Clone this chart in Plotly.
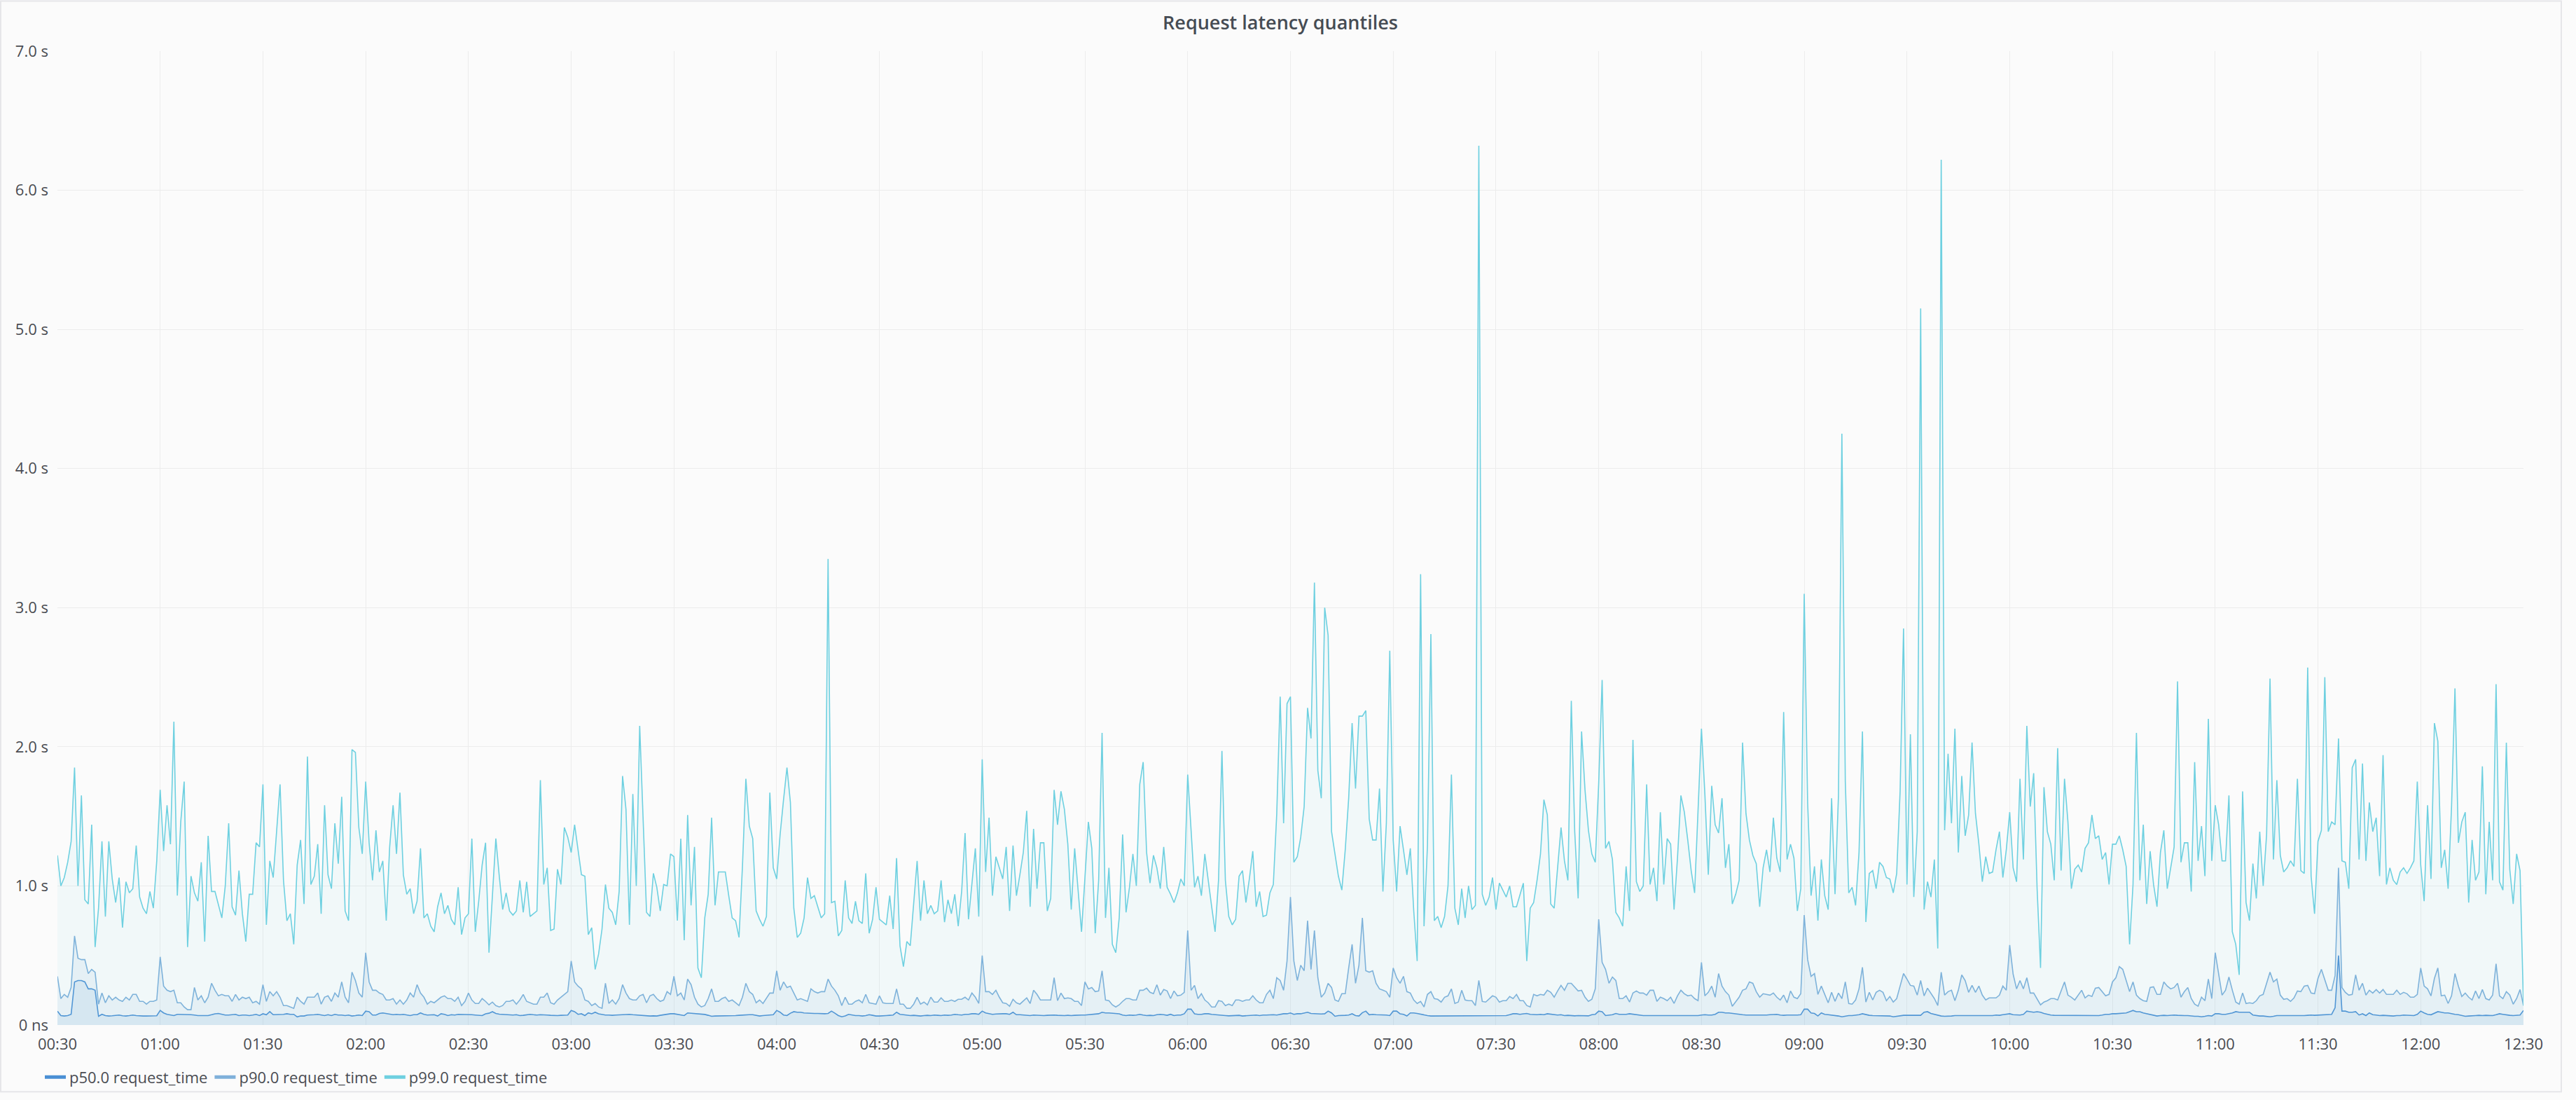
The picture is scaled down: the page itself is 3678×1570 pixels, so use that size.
import sys
import pandas as pd
import plotly.graph_objects as go

# ---------------- data (one value per minute) ----------------
START_TIME = "2019-06-20 00:30"
SAMPLE_FREQ = "1min"

p99_values = [
    # 00:30 - 02:30
    1.22,1.00,1.06,1.17,1.32,1.85,1.00,1.65,0.90,0.87,
    1.44,0.56,0.84,1.32,0.78,1.32,1.05,0.88,1.06,0.70,
    1.03,0.95,0.98,1.29,0.92,0.84,0.80,0.96,0.84,1.18,
    1.69,1.25,1.58,1.30,2.18,0.93,1.46,1.75,0.56,1.07,
    0.95,0.89,1.17,0.60,1.36,0.96,0.96,0.87,0.77,1.00,
    1.45,0.85,0.79,1.11,0.80,0.60,0.94,0.94,1.31,1.28,
    1.73,0.72,1.18,1.06,1.39,1.73,1.04,0.75,0.80,0.58,
    1.15,1.33,0.87,1.93,1.01,1.07,1.30,0.80,1.58,1.08,
    0.98,1.45,1.16,1.64,0.82,0.75,1.98,1.96,1.42,1.23,
    1.75,1.31,1.04,1.40,1.10,1.18,0.75,1.28,1.58,1.23,
    1.67,1.08,0.94,0.98,0.80,0.89,1.27,0.77,0.80,0.71,
    0.67,0.85,0.95,0.80,0.86,0.76,0.72,0.99,0.65,0.77,
    0.80,
    # 02:31 - 04:30
    1.34,0.67,0.89,1.15,1.31,0.52,0.94,1.34,1.07,0.83,
    0.95,0.82,0.79,0.82,1.04,0.81,1.03,0.78,0.80,0.82,
    1.76,1.01,1.13,0.68,0.69,1.12,1.01,1.42,1.35,1.24,
    1.44,1.25,1.08,1.07,0.65,0.70,0.40,0.51,0.69,1.01,
    0.84,0.81,0.72,0.96,1.79,1.55,0.72,1.66,1.00,2.15,
    1.48,0.81,0.78,1.09,0.99,0.82,1.01,1.00,1.23,1.21,
    0.75,1.34,0.61,1.51,0.86,1.28,0.41,0.34,0.77,0.94,
    1.49,0.86,1.10,1.10,1.10,0.93,0.77,0.75,0.63,1.14,
    1.77,1.43,1.34,0.82,0.76,0.71,0.78,1.67,1.13,1.05,
    1.37,1.62,1.85,1.60,0.84,0.63,0.66,0.77,1.06,0.91,
    0.93,0.85,0.77,0.80,3.35,0.88,0.89,0.64,0.68,1.04,
    0.77,0.73,0.89,0.75,0.73,1.09,0.66,0.76,0.99,0.76,
    # 04:31 - 06:30
    0.74,0.72,0.93,0.69,1.20,0.57,0.42,0.60,0.57,0.87,
    1.18,0.75,1.04,0.80,0.86,0.80,0.82,1.04,0.74,0.90,
    0.80,0.94,0.71,0.96,1.38,0.76,1.02,1.27,0.78,1.91,
    1.10,1.49,0.93,1.21,1.13,1.05,1.28,0.82,1.29,0.93,
    1.08,1.24,1.54,0.85,1.41,0.98,1.31,1.31,0.82,0.91,
    1.69,1.44,1.68,1.55,1.30,0.83,1.27,0.96,0.67,1.06,
    1.46,1.27,0.66,1.04,2.10,0.77,1.13,0.58,0.52,0.77,
    1.37,0.81,0.99,1.23,1.00,1.73,1.89,1.24,1.02,1.22,
    1.13,0.98,1.28,0.99,0.94,0.88,0.95,1.05,1.00,1.80,
    1.42,0.99,1.07,0.93,1.23,1.03,0.85,0.67,1.04,1.97,
    1.04,0.78,0.72,0.76,1.07,1.11,0.88,1.05,1.25,0.85,
    0.96,0.78,0.79,0.95,1.01,1.52,2.36,1.45,2.31,2.36,
    # 06:31 - 08:30
    1.17,1.21,1.35,1.57,2.28,2.06,3.18,1.83,1.63,3.00,
    2.80,1.39,1.23,1.07,0.97,1.26,1.63,2.17,1.70,2.22,
    2.22,2.26,1.48,1.33,1.33,1.70,0.96,1.45,2.69,1.33,
    0.96,1.43,1.26,1.08,1.27,0.82,0.46,3.24,0.71,1.29,
    2.81,0.75,0.78,0.70,0.78,1.00,1.80,0.84,0.72,0.98,
    0.77,1.00,0.83,0.86,6.32,0.94,0.86,0.92,1.06,0.83,
    1.02,0.97,0.92,1.00,0.85,0.85,0.94,1.02,0.46,0.84,
    0.88,1.04,1.23,1.62,1.51,0.87,0.84,1.14,1.42,1.18,
    1.04,2.33,1.39,0.91,2.11,1.69,1.40,1.23,1.17,1.74,
    2.48,1.27,1.32,1.19,0.81,0.77,0.71,1.14,0.82,2.05,
    1.03,0.96,1.00,1.73,1.01,1.13,0.89,1.53,1.01,1.34,
    1.30,0.83,1.20,1.65,1.53,1.33,1.11,0.95,1.55,2.13,
    # 08:31 - 10:30
    1.66,1.08,1.72,1.44,1.38,1.63,1.13,1.30,0.87,0.94,
    1.04,2.03,1.52,1.33,1.22,1.16,0.85,1.13,1.26,1.10,
    1.49,1.20,1.10,2.25,1.19,1.30,1.20,0.82,0.98,3.10,
    1.60,0.93,1.14,0.75,1.19,0.93,0.83,1.63,0.94,1.65,
    4.25,1.75,0.95,0.99,0.86,1.24,2.11,0.74,1.09,1.11,
    0.98,1.17,1.14,1.06,1.05,0.95,1.09,1.68,2.85,1.01,
    2.09,0.92,1.39,5.15,0.83,1.03,0.92,1.19,0.55,6.22,
    1.40,1.95,1.45,2.13,1.24,1.79,1.36,1.51,2.03,1.52,
    1.30,1.03,1.21,1.09,1.10,1.26,1.39,1.06,1.26,1.53,
    1.13,1.03,1.77,1.19,2.15,1.57,1.81,0.98,0.41,1.71,
    1.39,1.30,1.04,1.99,1.11,1.77,1.46,0.98,1.12,1.15,
    1.10,1.27,1.31,1.51,1.34,1.36,1.19,1.24,1.01,1.30,
    # 10:31 - 12:30
    1.30,1.36,1.26,1.14,0.58,1.01,2.10,1.04,1.44,0.87,
    1.25,1.01,0.85,1.24,1.40,0.98,1.13,1.28,2.47,1.17,
    1.31,1.31,0.96,1.89,1.18,1.43,1.07,2.20,1.18,1.58,
    1.44,1.18,1.18,1.65,0.67,0.58,0.36,1.68,0.88,0.75,
    1.16,0.91,1.39,1.00,1.37,2.49,1.19,1.76,1.22,1.10,
    1.13,1.18,1.14,1.77,1.11,1.09,2.57,1.07,0.80,1.32,
    1.40,2.50,1.39,1.46,1.44,2.06,1.18,1.17,0.98,1.85,
    1.91,1.19,1.88,1.18,1.60,1.39,1.49,1.07,1.94,1.01,
    1.13,1.04,1.01,1.10,1.13,1.09,1.13,1.18,1.75,1.15,
    0.89,1.58,1.05,2.17,2.04,1.13,1.26,0.98,1.57,2.42,
    1.31,1.46,1.53,0.88,1.33,1.04,1.10,1.86,0.94,1.46,
    1.04,2.45,1.03,0.97,2.03,1.12,0.87,1.23,1.11,0.14,
]

p90_values = [
    # 00:30 - 02:30
    0.35,0.19,0.22,0.20,0.27,0.64,0.48,0.47,0.47,0.37,
    0.40,0.38,0.15,0.23,0.16,0.21,0.18,0.20,0.18,0.17,
    0.20,0.18,0.22,0.22,0.17,0.17,0.15,0.17,0.17,0.18,
    0.49,0.28,0.25,0.24,0.25,0.16,0.16,0.13,0.11,0.11,
    0.27,0.18,0.21,0.16,0.20,0.30,0.25,0.21,0.22,0.21,
    0.21,0.17,0.22,0.18,0.20,0.19,0.20,0.16,0.17,0.15,
    0.29,0.17,0.24,0.21,0.24,0.20,0.14,0.14,0.13,0.12,
    0.20,0.17,0.15,0.20,0.20,0.20,0.23,0.15,0.20,0.21,
    0.17,0.23,0.20,0.31,0.20,0.16,0.38,0.32,0.23,0.20,
    0.52,0.31,0.25,0.25,0.23,0.22,0.18,0.18,0.19,0.15,
    0.18,0.15,0.18,0.23,0.20,0.29,0.23,0.20,0.15,0.17,
    0.16,0.18,0.20,0.21,0.19,0.19,0.17,0.20,0.14,0.17,
    0.23,
    # 02:31 - 04:30
    0.18,0.155,0.155,0.19,0.17,0.145,0.165,0.14,0.13,0.14,
    0.17,0.17,0.18,0.15,0.18,0.22,0.17,0.16,0.15,0.15,
    0.20,0.20,0.23,0.16,0.15,0.18,0.20,0.22,0.24,0.46,
    0.31,0.28,0.26,0.18,0.17,0.14,0.155,0.13,0.12,0.30,
    0.155,0.18,0.15,0.19,0.29,0.23,0.19,0.18,0.18,0.21,
    0.22,0.16,0.21,0.22,0.19,0.17,0.18,0.24,0.22,0.35,
    0.21,0.23,0.18,0.33,0.29,0.20,0.15,0.13,0.14,0.19,
    0.26,0.17,0.17,0.19,0.20,0.17,0.18,0.16,0.14,0.20,
    0.30,0.24,0.22,0.16,0.18,0.155,0.19,0.23,0.23,0.39,
    0.25,0.31,0.27,0.28,0.23,0.18,0.19,0.18,0.17,0.26,
    0.24,0.23,0.24,0.24,0.33,0.28,0.25,0.21,0.14,0.20,
    0.15,0.15,0.17,0.18,0.16,0.22,0.16,0.155,0.15,0.21,
    # 04:31 - 06:30
    0.16,0.155,0.155,0.155,0.26,0.15,0.15,0.12,0.12,0.15,
    0.20,0.15,0.165,0.145,0.20,0.165,0.165,0.195,0.17,0.17,
    0.18,0.17,0.185,0.185,0.20,0.18,0.23,0.20,0.155,0.50,
    0.24,0.24,0.22,0.25,0.20,0.16,0.155,0.135,0.185,0.16,
    0.15,0.175,0.195,0.155,0.25,0.22,0.18,0.18,0.18,0.18,
    0.34,0.175,0.23,0.19,0.195,0.19,0.17,0.17,0.14,0.31,
    0.26,0.27,0.24,0.245,0.39,0.18,0.175,0.145,0.13,0.145,
    0.17,0.19,0.19,0.18,0.18,0.25,0.25,0.265,0.235,0.225,
    0.29,0.215,0.255,0.245,0.19,0.245,0.21,0.215,0.235,0.68,
    0.25,0.285,0.19,0.225,0.18,0.16,0.13,0.13,0.175,0.17,
    0.14,0.15,0.14,0.18,0.18,0.17,0.18,0.18,0.21,0.18,
    0.16,0.16,0.22,0.25,0.19,0.34,0.32,0.25,0.46,0.92,
    # 06:31 - 08:30
    0.46,0.32,0.43,0.39,0.75,0.40,0.68,0.34,0.20,0.23,
    0.30,0.27,0.18,0.17,0.225,0.225,0.41,0.58,0.30,0.43,
    0.77,0.39,0.38,0.39,0.30,0.26,0.25,0.24,0.20,0.41,
    0.34,0.30,0.35,0.24,0.23,0.18,0.155,0.17,0.13,0.22,
    0.24,0.19,0.185,0.165,0.20,0.21,0.26,0.155,0.165,0.25,
    0.18,0.175,0.175,0.14,0.32,0.17,0.165,0.19,0.21,0.20,
    0.165,0.175,0.175,0.205,0.19,0.22,0.175,0.175,0.14,0.13,
    0.22,0.21,0.22,0.215,0.25,0.235,0.20,0.245,0.285,0.25,
    0.30,0.30,0.27,0.245,0.25,0.20,0.17,0.185,0.26,0.76,
    0.45,0.40,0.30,0.345,0.32,0.19,0.19,0.21,0.165,0.23,
    0.245,0.23,0.23,0.215,0.25,0.25,0.17,0.20,0.19,0.175,
    0.20,0.155,0.21,0.25,0.225,0.21,0.215,0.19,0.175,0.45,
    # 08:31 - 10:30
    0.21,0.235,0.28,0.20,0.37,0.28,0.24,0.215,0.135,0.165,
    0.20,0.25,0.26,0.31,0.30,0.24,0.20,0.225,0.22,0.215,
    0.23,0.20,0.18,0.215,0.16,0.245,0.20,0.19,0.225,0.79,
    0.47,0.35,0.37,0.22,0.28,0.22,0.16,0.235,0.17,0.23,
    0.19,0.31,0.155,0.15,0.18,0.26,0.415,0.165,0.235,0.18,
    0.235,0.25,0.235,0.175,0.205,0.165,0.19,0.28,0.37,0.33,
    0.285,0.28,0.215,0.32,0.21,0.265,0.225,0.19,0.14,0.38,
    0.215,0.24,0.25,0.175,0.25,0.36,0.32,0.235,0.285,0.235,
    0.28,0.215,0.18,0.195,0.195,0.195,0.215,0.28,0.25,0.575,
    0.365,0.26,0.32,0.26,0.34,0.23,0.23,0.19,0.145,0.165,
    0.175,0.19,0.19,0.18,0.245,0.31,0.215,0.20,0.18,0.215,
    0.25,0.195,0.215,0.205,0.265,0.27,0.24,0.21,0.22,0.31,
    # 10:31 - 12:30
    0.34,0.42,0.40,0.32,0.24,0.31,0.215,0.19,0.175,0.17,
    0.27,0.275,0.22,0.22,0.31,0.28,0.26,0.27,0.30,0.20,
    0.24,0.27,0.19,0.15,0.135,0.20,0.175,0.33,0.19,0.52,
    0.37,0.215,0.25,0.345,0.25,0.165,0.15,0.23,0.155,0.16,
    0.155,0.175,0.21,0.22,0.30,0.38,0.31,0.33,0.215,0.185,
    0.19,0.17,0.195,0.245,0.24,0.28,0.285,0.23,0.225,0.335,
    0.40,0.32,0.25,0.25,0.355,1.13,0.27,0.235,0.215,0.22,
    0.36,0.25,0.30,0.215,0.25,0.23,0.255,0.23,0.255,0.22,
    0.22,0.22,0.25,0.22,0.235,0.225,0.20,0.20,0.22,0.41,
    0.28,0.26,0.21,0.335,0.41,0.21,0.215,0.155,0.21,0.37,
    0.28,0.205,0.23,0.20,0.18,0.245,0.19,0.255,0.19,0.18,
    0.215,0.44,0.21,0.19,0.24,0.215,0.15,0.19,0.255,0.14,
]

p50_values = [
    # 00:30 - 02:30
    0.100,0.068,0.065,0.068,0.077,0.310,0.320,0.320,0.310,0.260,
    0.260,0.250,0.063,0.077,0.068,0.065,0.067,0.068,0.072,0.067,
    0.065,0.068,0.072,0.068,0.065,0.065,0.065,0.065,0.068,0.067,
    0.105,0.087,0.077,0.072,0.068,0.077,0.077,0.077,0.077,0.074,
    0.072,0.068,0.068,0.068,0.068,0.074,0.081,0.083,0.077,0.072,
    0.072,0.074,0.077,0.068,0.072,0.072,0.068,0.072,0.077,0.068,
    0.081,0.074,0.096,0.074,0.074,0.077,0.077,0.081,0.077,0.077,
    0.059,0.065,0.065,0.072,0.072,0.074,0.077,0.072,0.068,0.074,
    0.068,0.077,0.072,0.072,0.068,0.072,0.065,0.068,0.072,0.068,
    0.100,0.096,0.072,0.072,0.083,0.087,0.083,0.077,0.074,0.077,
    0.074,0.077,0.072,0.068,0.074,0.074,0.087,0.077,0.072,0.072,
    0.074,0.065,0.081,0.077,0.068,0.074,0.072,0.077,0.077,0.074,
    0.077,
    # 02:31 - 04:30
    0.074,0.072,0.070,0.068,0.081,0.085,0.096,0.083,0.078,0.076,
    0.074,0.074,0.072,0.074,0.068,0.070,0.072,0.077,0.074,0.072,
    0.074,0.074,0.072,0.070,0.068,0.068,0.070,0.072,0.072,0.105,
    0.096,0.077,0.081,0.068,0.087,0.081,0.092,0.081,0.076,0.072,
    0.072,0.070,0.072,0.074,0.074,0.076,0.077,0.074,0.072,0.072,
    0.070,0.068,0.065,0.066,0.065,0.070,0.074,0.077,0.081,0.081,
    0.077,0.074,0.068,0.087,0.085,0.083,0.083,0.081,0.076,0.070,
    0.063,0.065,0.065,0.068,0.068,0.065,0.066,0.068,0.070,0.072,
    0.072,0.074,0.074,0.070,0.065,0.068,0.070,0.074,0.074,0.105,
    0.092,0.072,0.068,0.085,0.096,0.092,0.092,0.087,0.085,0.083,
    0.083,0.083,0.081,0.081,0.083,0.100,0.085,0.068,0.059,0.065,
    0.077,0.072,0.068,0.068,0.065,0.068,0.074,0.070,0.065,0.065,
    # 04:31 - 06:30
    0.068,0.068,0.070,0.072,0.092,0.077,0.074,0.072,0.068,0.070,
    0.068,0.065,0.068,0.070,0.068,0.072,0.070,0.068,0.072,0.070,
    0.072,0.077,0.074,0.072,0.077,0.077,0.081,0.081,0.077,0.100,
    0.087,0.081,0.077,0.079,0.081,0.081,0.081,0.077,0.092,0.074,
    0.074,0.072,0.070,0.068,0.072,0.070,0.068,0.068,0.070,0.072,
    0.072,0.070,0.068,0.068,0.070,0.068,0.070,0.072,0.072,0.072,
    0.074,0.077,0.077,0.081,0.092,0.087,0.087,0.085,0.083,0.081,
    0.072,0.068,0.072,0.070,0.072,0.077,0.072,0.068,0.070,0.068,
    0.074,0.077,0.074,0.070,0.077,0.068,0.072,0.072,0.081,0.114,
    0.114,0.081,0.077,0.077,0.081,0.081,0.077,0.074,0.072,0.068,
    0.068,0.066,0.068,0.068,0.070,0.065,0.066,0.068,0.068,0.072,
    0.068,0.072,0.072,0.074,0.074,0.072,0.077,0.081,0.081,0.087,
    # 06:31 - 08:30
    0.077,0.081,0.081,0.085,0.092,0.083,0.081,0.081,0.079,0.081,
    0.100,0.087,0.063,0.068,0.068,0.070,0.072,0.081,0.068,0.065,
    0.089,0.100,0.074,0.077,0.074,0.074,0.072,0.072,0.068,0.100,
    0.100,0.081,0.077,0.065,0.087,0.087,0.083,0.077,0.072,0.068,
    0.065,0.065,0.068,0.068,0.068,0.066,0.065,0.068,0.066,0.065,
    0.066,0.068,0.066,0.065,0.068,0.068,0.068,0.066,0.065,0.068,
    0.066,0.066,0.068,0.074,0.081,0.081,0.077,0.081,0.083,0.077,
    0.074,0.074,0.077,0.074,0.081,0.077,0.074,0.072,0.074,0.068,
    0.070,0.068,0.066,0.068,0.068,0.065,0.066,0.074,0.077,0.100,
    0.096,0.068,0.072,0.074,0.083,0.077,0.077,0.077,0.081,0.077,
    0.074,0.070,0.068,0.068,0.068,0.070,0.068,0.070,0.068,0.070,
    0.068,0.070,0.068,0.068,0.070,0.068,0.068,0.070,0.068,0.072,
    # 08:31 - 10:30
    0.074,0.072,0.072,0.077,0.092,0.092,0.087,0.087,0.083,0.081,
    0.077,0.074,0.072,0.072,0.070,0.072,0.070,0.072,0.072,0.074,
    0.074,0.077,0.072,0.070,0.072,0.072,0.070,0.072,0.074,0.114,
    0.114,0.087,0.083,0.065,0.087,0.077,0.074,0.072,0.068,0.065,
    0.059,0.065,0.068,0.068,0.070,0.074,0.081,0.074,0.070,0.068,
    0.068,0.068,0.068,0.068,0.065,0.059,0.063,0.068,0.070,0.070,
    0.070,0.068,0.068,0.070,0.092,0.096,0.083,0.077,0.072,0.065,
    0.063,0.063,0.065,0.068,0.068,0.068,0.070,0.068,0.068,0.068,
    0.070,0.070,0.070,0.068,0.068,0.072,0.070,0.074,0.077,0.081,
    0.074,0.072,0.072,0.077,0.100,0.096,0.092,0.096,0.092,0.083,
    0.077,0.072,0.070,0.070,0.068,0.070,0.068,0.068,0.070,0.068,
    0.068,0.068,0.070,0.068,0.070,0.068,0.072,0.077,0.077,0.081,
    # 10:31 - 12:30
    0.081,0.083,0.087,0.087,0.096,0.105,0.096,0.096,0.087,0.081,
    0.074,0.068,0.065,0.068,0.070,0.068,0.070,0.072,0.070,0.068,
    0.068,0.068,0.065,0.063,0.063,0.059,0.063,0.068,0.065,0.081,
    0.081,0.077,0.077,0.081,0.087,0.096,0.092,0.092,0.092,0.092,
    0.072,0.068,0.065,0.065,0.063,0.059,0.063,0.068,0.068,0.068,
    0.066,0.065,0.066,0.066,0.068,0.068,0.070,0.072,0.070,0.072,
    0.072,0.074,0.077,0.077,0.124,0.500,0.100,0.100,0.092,0.092,
    0.096,0.072,0.081,0.068,0.087,0.074,0.072,0.068,0.070,0.068,
    0.068,0.065,0.068,0.068,0.072,0.070,0.070,0.068,0.077,0.100,
    0.087,0.077,0.074,0.087,0.096,0.092,0.087,0.087,0.081,0.077,
    0.074,0.070,0.063,0.065,0.068,0.068,0.070,0.068,0.070,0.068,
    0.068,0.074,0.081,0.077,0.072,0.070,0.068,0.070,0.072,0.105,
]

series_names = ["p50.0 request_time", "p90.0 request_time", "p99.0 request_time"]
series_colors = ["#4A8FD4", "#7FB0DA", "#6ED0E0"]
series_fills = ["rgba(74,143,212,0.10)", "rgba(127,176,218,0.10)", "rgba(110,208,224,0.07)"]

y_tick_values = [0, 1, 2, 3, 4, 5, 6, 7]
y_tick_labels = ["0 ns", "1.0 s", "2.0 s", "3.0 s", "4.0 s", "5.0 s", "6.0 s", "7.0 s"]
X_START = "2019-06-20 00:30"
X_END = "2019-06-20 12:30"
TITLE = "Request latency quantiles"

print("lengths:", len(p50_values), len(p90_values), len(p99_values), file=sys.stderr)

# ---------------- figure ----------------
W, H = 3678, 1570
ML, MR, MT, MB = 82, 75, 73, 97
FONT = "Open Sans"
TEXT_COLOR = "#4a4c52"
BG = "#fbfbfb"
GRID = "#ececec"
PW = W - ML - MR
PH = H - MT - MB

fig = go.Figure()
all_series = [p50_values, p90_values, p99_values]
for name, vals, col, fc in zip(series_names, all_series, series_colors, series_fills):
    times = pd.date_range(START_TIME, periods=len(vals), freq=SAMPLE_FREQ)
    fig.add_trace(go.Scatter(
        x=times, y=vals, mode="lines", name=name,
        line=dict(color=col, width=1.6), fill="tozeroy", fillcolor=fc,
        showlegend=False, hoverinfo="x+y",
    ))

# legend-only entries with thick short glyphs (like the reference legend)
for name, col in zip(series_names, series_colors):
    fig.add_trace(go.Scatter(
        x=[None], y=[None], mode="lines", name=name,
        line=dict(color=col, width=5), showlegend=True,
    ))

LEGEND_CENTER_Y = 1548
fig.update_layout(
    width=W, height=H,
    margin=dict(l=ML, r=MR, t=MT, b=MB, pad=0),
    paper_bgcolor=BG, plot_bgcolor=BG,
    font=dict(family=FONT, size=22, color=TEXT_COLOR),
    title=dict(text=TITLE, x=1828 / W, xref="container", xanchor="center",
               y=1 - 33 / H, yref="container", yanchor="middle",
               font=dict(family=FONT, size=27, color="#464c54", weight=600)),
    showlegend=True,
    legend=dict(orientation="h", x=(59 - ML) / PW, xanchor="left",
                y=-(LEGEND_CENTER_Y - (H - MB)) / PH, yanchor="middle",
                font=dict(size=22, color=TEXT_COLOR), bgcolor="rgba(0,0,0,0)",
                itemsizing="trace", traceorder="normal"),
    xaxis=dict(
        type="date", range=[X_START, X_END], dtick=30 * 60 * 1000,
        tick0=X_START, tickformat="%H:%M", showgrid=True, gridcolor=GRID,
        gridwidth=1, zeroline=False, showline=False, ticks="",
        ticklabelstandoff=12, tickfont=dict(size=22, color=TEXT_COLOR),
        fixedrange=True,
    ),
    yaxis=dict(
        range=[0, 7], tickvals=y_tick_values, ticktext=y_tick_labels,
        showgrid=True, gridcolor=GRID, gridwidth=1, zeroline=False,
        showline=False, ticks="", ticklabelstandoff=12,
        tickfont=dict(size=22, color=TEXT_COLOR), fixedrange=True,
    ),
    hovermode="x",
)

# panel border (top and right edge of the dashboard panel)
fig.add_shape(type="rect", xref="paper", yref="paper",
              x0=(1 - ML) / PW, x1=(3657 - ML) / PW,
              y0=(H - MB - (H - 1)) / PH, y1=(H - MB - 1) / PH,
              line=dict(color="#e6e6e9", width=2), fillcolor="rgba(0,0,0,0)",
              layer="below")

fig.write_html("out.html", include_plotlyjs=True, config={"displayModeBar": False})
